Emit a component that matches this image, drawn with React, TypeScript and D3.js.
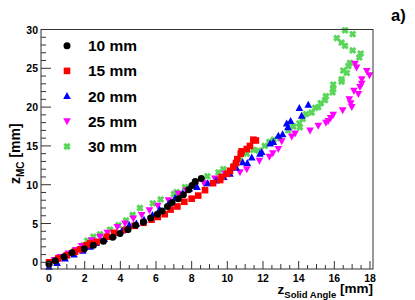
import React from "react";
import * as d3 from "d3";

type P = [number, number];

const seriesLabels = ["10 mm", "15 mm", "20 mm", "25 mm", "30 mm"];

const s10: P[] = [[0,-0.2],[0.35,0.2],[0.84,0.72],[1.29,1.23],[1.98,1.74],[2.49,2.2],[3.05,2.73],[3.57,3.24],[3.98,3.72],[4.43,4.23],[4.86,4.78],[5.29,5.2],[5.7,5.7],[6.07,6.2],[6.34,6.6],[6.64,7.2],[6.9,7.7],[7.25,8.2],[7.53,8.7],[7.83,9.36],[8.02,9.9],[8.2,10.4],[8.54,10.8]];

const s15: P[] = [[0,0],[0.52,0.5],[1.0,0.9],[1.46,1.36],[1.74,1.67],[2.1,2.2],[2.3,2.44],[2.67,2.64],[3.24,3.3],[3.65,3.8],[4.32,4.2],[4.8,4.7],[5.3,5.1],[5.75,5.5],[6.1,5.85],[6.49,6.2],[6.82,6.8],[7.2,7.2],[7.59,7.8],[8.0,8.2],[8.37,8.6],[8.75,9.3],[9.2,10.2],[9.6,10.6],[9.68,11.0],[10.0,11.4],[10.15,11.8],[10.34,12.3],[10.49,12.8],[10.56,13.3],[10.75,14.0],[10.8,14.3],[11.09,14.6],[11.27,15.0],[11.46,15.8],[11.6,15.7]];

const s20: P[] = [[0,-0.56],[0.45,-0.1],[0.9,0.5],[1.4,1.0],[1.9,1.5],[2.3,2.0],[2.64,2.5],[3.1,3.0],[3.6,3.5],[4.1,4.1],[4.5,4.8],[4.9,5.0],[5.33,5.5],[5.8,6.1],[6.2,6.8],[6.69,7.5],[7.07,8.3],[7.5,8.9],[7.87,9.5],[8.3,9.7],[8.9,10.2],[9.37,10.55],[9.8,11.0],[10.15,11.4],[10.5,12.2],[10.86,12.9],[11.12,12.8],[11.37,13.5],[11.83,14.0],[11.93,14.2],[12.4,15.3],[12.58,15.5],[12.86,16.3],[13.1,16.5],[13.33,17.9],[13.4,17.4],[13.55,18.2],[14.04,19.9],[14.17,18.9],[14.54,20.3]];

const s25: P[] = [[0.3,0.3],[0.62,0.7],[1.08,1.15],[1.5,1.6],[1.83,2.1],[2.39,2.86],[2.86,3.3],[3.27,3.8],[3.83,4.56],[4.26,5.0],[4.73,5.64],[5.2,6.1],[5.63,6.7],[6.1,7.3],[6.7,8.0],[7.25,8.85],[7.7,9.3],[8.2,9.8],[8.69,10.2],[9.3,10.8],[9.87,11.4],[10.71,11.6],[11.09,12.0],[11.8,13.1],[12.36,13.6],[12.55,14.05],[12.86,14.6],[13.05,15.6],[13.61,16.2],[13.8,16.6],[14.64,17.0],[15.1,17.6],[15.53,18.0],[15.66,18.2],[15.8,18.6],[15.94,19.0],[16.47,19.6],[16.98,20.0],[16.92,20.5],[16.84,21.0],[17.35,21.7],[17.1,22.1],[17.44,22.6],[17.54,23.0],[17.54,23.6],[17.97,24.1],[17.82,24.65],[17.25,25.1],[17.16,25.6]];

const s30: P[] = [[0.43,0.0],[0.9,0.7],[1.4,1.4],[1.92,2.2],[2.15,2.8],[2.49,3.3],[2.86,3.6],[3.42,4.2],[3.9,4.8],[4.32,5.4],[4.69,6.1],[5.1,7.0],[5.82,7.6],[6.26,8.1],[7.01,8.8],[7.16,9.05],[7.63,9.7],[8.2,10.3],[8.88,11.1],[9.5,11.6],[9.78,12.0],[9.97,11.6],[10.4,12.5],[10.7,13.2],[11.09,14.0],[11.46,14.5],[11.74,14.4],[12.1,15.0],[12.36,15.5],[12.6,15.8],[12.96,16.0],[13.42,17.0],[13.7,17.5],[14.04,17.9],[14.07,17.4],[14.23,18.5],[14.41,19.1],[14.73,19.3],[14.92,19.9],[15.1,20.0],[15.24,20.5],[15.48,20.9],[15.53,21.4],[15.9,21.9],[15.94,22.3],[15.94,22.9],[16.41,23.3],[16.41,23.6],[16.5,24.7],[16.7,24.4],[16.79,25.3],[16.88,25.7],[17.4,26.4],[17.48,26.9],[17.03,27.3],[16.6,27.9],[16.41,28.3],[16.14,28.9],[17.03,29.4],[16.6,29.9]];

const allSeries = [s10, s15, s20, s25, s30];
const colors = ["#000000", "#ff0000", "#0000ff", "#ff00ff", "#5ad65a"];
const markers = ["circle", "square", "triUp", "triDown", "cross"];

const xTickLabels = [0, 2, 4, 6, 8, 10, 12, 14, 16, 18];
const yTickLabels = [0, 5, 10, 15, 20, 25, 30];

const FONT = "'Liberation Sans', Arial, Helvetica, sans-serif";

function Marker({ kind, x, y, color }: { kind: string; x: number; y: number; color: string }) {
  if (kind === "circle") return <circle cx={x} cy={y} r={3.5} fill={color} />;
  if (kind === "square") return <rect x={x - 3.3} y={y - 3.3} width={6.6} height={6.6} fill={color} />;
  if (kind === "triUp")
    return <path d={`M${x},${y - 4}L${x + 3.8},${y + 3}L${x - 3.8},${y + 3}Z`} fill={color} />;
  if (kind === "triDown")
    return <path d={`M${x},${y + 4}L${x + 3.8},${y - 3}L${x - 3.8},${y - 3}Z`} fill={color} />;
  return (
    <g stroke={color} strokeWidth={3} strokeLinecap="butt">
      <line x1={x - 2.6} y1={y - 2.6} x2={x + 2.6} y2={y + 2.6} />
      <line x1={x - 2.6} y1={y + 2.6} x2={x + 2.6} y2={y - 2.6} />
    </g>
  );
}

export default function App() {
  const L = 41, R = 373, T = 29.5, B = 269;
  const x = d3.scaleLinear().domain([-0.45, 18.17]).range([L, R]);
  const y = d3.scaleLinear().domain([-0.86, 30]).range([B, T]);

  const xMinor = d3.range(0, 18.01, 0.5);
  const yMinor = d3.range(0, 30.01, 1);

  const order = [4, 3, 2, 1, 0];

  return (
    <svg width={415} height={300} style={{ position: "absolute", left: 0, top: 0, background: "#fff" }} fontFamily={FONT}>
      <rect x={0} y={0} width={415} height={300} fill="#fff" />
      {order.map((si) =>
        allSeries[si].map((p, i) => (
          <Marker key={`${si}-${i}`} kind={markers[si]} x={x(p[0])} y={y(p[1])} color={colors[si]} />
        ))
      )}
      <rect x={L} y={T} width={R - L} height={B - T} fill="none" stroke="#333" strokeWidth={1} />
      {xMinor.map((v) => {
        const major = Math.abs(v % 2) < 1e-6;
        const mid = !major && Math.abs(v % 1) < 1e-6;
        const len = major ? 8 : mid ? 5 : 4;
        return <line key={`xt${v}`} x1={x(v)} x2={x(v)} y1={B} y2={B - len} stroke="#333" strokeWidth={1} />;
      })}
      {xTickLabels.map((v) => (
        <text key={`xl${v}`} x={x(v)} y={281.5} textAnchor="middle" fontSize={10.5} fontWeight="bold">{v}</text>
      ))}
      {yMinor.map((v) => {
        const major = Math.abs(v % 5) < 1e-6;
        const len = major ? 10 : 5;
        return <line key={`yt${v}`} x1={L} x2={L + len} y1={y(v)} y2={y(v)} stroke="#333" strokeWidth={1} />;
      })}
      {yTickLabels.map((v) => (
        <text key={`yl${v}`} x={38} y={y(v) + 4} textAnchor="end" fontSize={10.5} fontWeight="bold">{v}</text>
      ))}
      <text x={373} y={294} textAnchor="end" fontWeight="bold" fontSize={13.5}>
        <tspan>z</tspan>
        <tspan fontSize={9.5} dy={4}>Solid Angle</tspan>
        <tspan dy={-5}> [mm]</tspan>
      </text>
      <text transform={`translate(20,184) rotate(-90)`} textAnchor="start" fontWeight="bold" fontSize={14}>
        <tspan>z</tspan>
        <tspan fontSize={10} dy={4}>MC</tspan>
        <tspan dy={-4}> [mm]</tspan>
      </text>
      {seriesLabels.map((lab, i) => {
        const ly = 45.7 + i * 25.2;
        return (
          <g key={`lg${i}`}>
            <Marker kind={markers[i]} x={67} y={ly} color={colors[i]} />
            <text x={88} y={ly + 5.5} fontSize={15.5} fontWeight="bold">{lab}</text>
          </g>
        );
      })}
      <text x={391} y={21} fontSize={16.5} fontWeight="bold">a)</text>
    </svg>
  );
}
